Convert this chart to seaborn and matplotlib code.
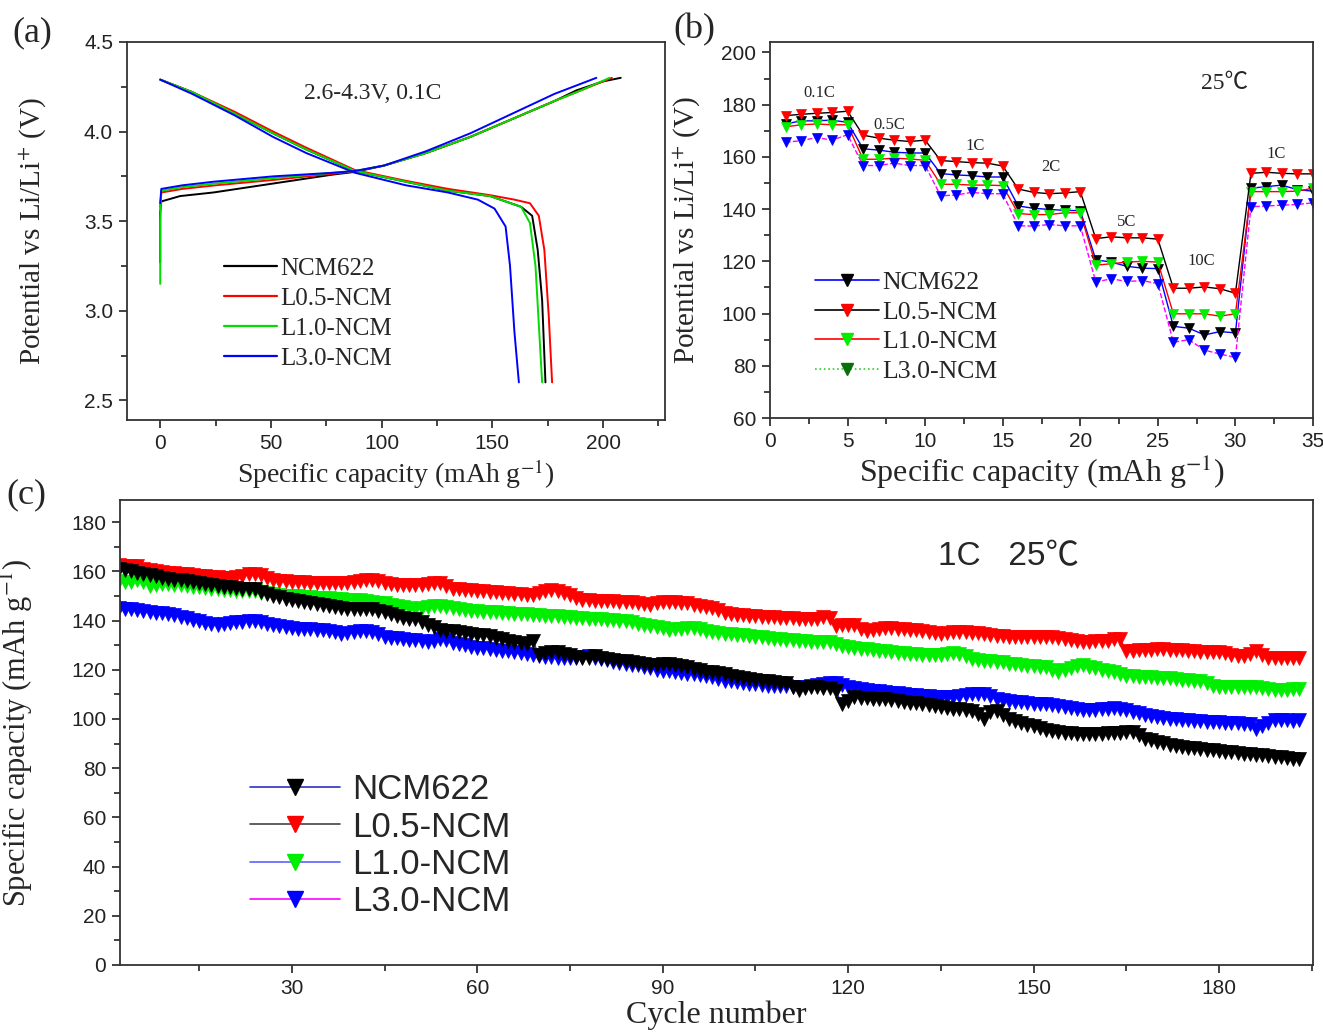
import seaborn as sns
import matplotlib.pyplot as plt
from matplotlib.lines import Line2D
from matplotlib.ticker import MultipleLocator, FormatStrFormatter

# --- (a) charge / discharge curves, 2.6-4.3 V, 0.1C ---
chg_cap_ncm = [0, 0, 0.5, 9, 24, 51, 78, 88, 101, 120, 140, 159, 178, 188, 200, 208]
chg_v_ncm = [3.27, 3.55, 3.61, 3.64, 3.66, 3.71, 3.76, 3.775, 3.81, 3.88, 3.97, 4.07, 4.17, 4.23, 4.28, 4.30]
chg_cap_l05 = [0, 0.5, 10, 25, 51, 78, 88, 101, 120, 140, 159, 178, 190, 204]
chg_v_l05 = [3.58, 3.66, 3.68, 3.70, 3.73, 3.765, 3.778, 3.81, 3.88, 3.97, 4.07, 4.17, 4.23, 4.30]
chg_cap_l10 = [0, 0, 0.5, 10, 25, 51, 78, 88, 101, 120, 140, 159, 178, 190, 203]
chg_v_l10 = [3.15, 3.50, 3.67, 3.69, 3.71, 3.74, 3.77, 3.78, 3.81, 3.88, 3.97, 4.07, 4.17, 4.23, 4.30]
chg_cap_l30 = [0, 0.5, 10, 24, 51, 78, 88, 101, 120, 140, 159, 178, 197]
chg_v_l30 = [3.60, 3.68, 3.70, 3.72, 3.75, 3.77, 3.78, 3.81, 3.89, 3.99, 4.10, 4.21, 4.30]

dis_cap_ncm = [0, 14.5, 33.7, 51, 66, 88, 111, 130, 149, 163, 168, 170.5, 172.5, 174]
dis_v_ncm = [4.29, 4.22, 4.10, 3.99, 3.90, 3.78, 3.72, 3.67, 3.64, 3.58, 3.53, 3.34, 3.06, 2.60]
dis_cap_l05 = [0, 14.5, 33.7, 51, 66, 88, 111, 130, 149, 160, 167, 171, 173.5, 175.5, 177]
dis_v_l05 = [4.29, 4.22, 4.11, 4.00, 3.91, 3.785, 3.725, 3.68, 3.645, 3.62, 3.60, 3.53, 3.34, 2.97, 2.60]
dis_cap_l10 = [0, 14.5, 33.7, 51, 66, 88, 111, 130, 149, 163, 167, 169.5, 172.5]
dis_v_l10 = [4.29, 4.22, 4.10, 3.99, 3.90, 3.78, 3.72, 3.67, 3.64, 3.58, 3.49, 3.25, 2.60]
dis_cap_l30 = [0, 14.5, 33.7, 51, 66, 88, 111, 130, 143.5, 151, 156, 158, 160, 162]
dis_v_l30 = [4.29, 4.21, 4.09, 3.97, 3.88, 3.77, 3.70, 3.66, 3.62, 3.57, 3.47, 3.25, 2.88, 2.60]

# --- (b) rate capability ---
rate_cycle = list(range(1, 36))
rate_ncm = [172.6, 173.8, 173.8, 174.1, 173.2, 163.1, 162.6, 161.8, 161.5, 161.5,
            153.6, 153.1, 152.8, 152.3, 152.3, 141.2, 140.3, 139.9, 139.5, 139.4,
            120.6, 119.7, 118.1, 117.4, 117.2, 95.1, 94.4, 91.8, 93.1, 92.6,
            148.0, 148.6, 149.2, 147.4, 146.9]
rate_l05 = [175.8, 176.3, 176.7, 177.0, 177.5, 168.3, 167.2, 166.4, 165.9, 166.4,
            158.6, 158.2, 157.8, 157.6, 156.5, 147.7, 146.4, 145.9, 146.2, 146.7,
            128.7, 129.4, 129.0, 129.0, 128.5, 109.7, 109.7, 110.2, 109.5, 107.8,
            153.7, 154.1, 153.7, 153.5, 153.5]
rate_l10 = [171.5, 172.3, 172.6, 172.3, 172.3, 159.1, 159.1, 159.5, 159.2, 158.7,
            149.5, 149.5, 149.2, 149.2, 149.0, 138.3, 137.9, 137.9, 138.6, 138.6,
            118.5, 119.1, 119.7, 120.0, 119.7, 99.9, 99.9, 99.9, 99.0, 99.9,
            146.7, 146.7, 146.7, 146.9, 148.0]
rate_l30 = [165.6, 166.2, 167.4, 166.4, 168.5, 156.7, 156.7, 157.6, 156.7, 156.7,
            145.1, 145.4, 146.4, 145.9, 145.9, 133.6, 133.5, 134.1, 133.6, 133.6,
            112.1, 113.3, 112.3, 112.6, 111.5, 89.0, 90.0, 86.0, 84.5, 83.2,
            140.9, 141.2, 141.5, 141.8, 142.4]
rate_labels = ["0.1C", "0.5C", "1C", "2C", "5C", "10C", "1C"]
rate_label_x = [3.2, 7.7, 13.2, 18.1, 23.0, 27.8, 32.6]
rate_label_y = [184.5, 172.3, 164.0, 156.3, 135.0, 120.0, 161.0]

# --- (c) cycling at 1C, 25 C ---
cyc_ncm = [161.0,
    160.8, 160.5, 160.0, 159.5, 159.0, 158.5, 158.0, 157.5, 157.0,
    156.6, 156.3, 156.0, 155.6, 155.2, 154.8, 154.5, 154.2, 153.8, 153.5,
    153.2, 153.0, 152.8, 152.7, 151.8, 150.6, 150.0, 149.4, 148.9, 148.4,
    148.0, 147.6, 147.2, 146.9, 146.5, 146.1, 145.7, 145.3, 144.9, 144.5,
    144.6, 144.8, 144.8, 144.0, 143.4, 142.6, 141.9, 141.2, 140.8, 140.5,
    139.5, 138.3, 137.2, 136.2, 135.8, 135.6, 135.3, 135.0, 134.7, 134.3,
    134.0, 133.6, 133.0, 132.4, 131.8, 131.3, 130.8, 130.4, 131.6, 126.0,
    126.8, 127.3, 127.1, 126.5, 125.8, 125.0, 124.6, 124.9, 125.4, 124.8,
    124.3, 124.0, 123.7, 123.4, 123.2, 122.7, 122.2, 121.8, 122.0, 122.3,
    122.5, 122.0, 121.5, 121.0, 120.4, 119.8, 119.2, 119.0, 118.6, 118.2,
    117.6, 117.0, 116.7, 116.3, 116.0, 115.6, 115.3, 115.0, 114.8, 114.5,
    113.0, 111.7, 112.5, 113.1, 112.8, 112.6, 112.4, 111.5, 105.9, 107.5,
    108.8, 108.6, 108.4, 108.2, 108.1, 108.1, 107.8, 107.4, 107.0, 106.6,
    106.3, 105.9, 105.6, 105.2, 104.9, 104.6, 104.2, 103.9, 103.7, 103.2,
    102.0, 100.1, 103.0, 103.3, 101.5, 100.1, 99.2, 98.4, 97.6, 97.0,
    96.3, 95.6, 95.1, 94.8, 94.5, 94.2, 94.0, 93.8, 93.7, 93.8,
    94.0, 94.1, 94.3, 94.5, 94.7, 94.7, 93.5, 92.0, 91.3, 90.8,
    90.1, 89.6, 89.1, 88.6, 88.3, 88.0, 87.7, 87.4, 87.2, 87.0,
    86.7, 86.4, 86.1, 85.8, 85.6, 85.4, 85.2, 85.0, 84.7, 84.4,
    84.0, 83.8, 83.6]
cyc_l05 = [188.0,
    162.5, 162.0, 162.3, 162.0, 161.0, 160.5, 160.0, 159.8, 159.5,
    159.2, 159.0, 158.8, 158.5, 158.2, 158.0, 157.8, 157.6, 157.5, 157.5,
    157.8, 158.3, 158.8, 159.0, 158.5, 157.2, 156.5, 156.2, 156.0, 155.8,
    155.6, 155.5, 155.4, 155.3, 155.3, 155.2, 155.2, 155.3, 155.4, 155.5,
    156.0, 156.5, 156.6, 156.0, 155.2, 154.8, 154.6, 154.5, 154.5, 154.4,
    154.5, 154.8, 155.2, 155.3, 154.0, 152.9, 152.7, 152.5, 152.3, 152.1,
    151.9, 151.7, 151.5, 151.3, 151.1, 150.9, 150.6, 150.3, 150.5, 151.2,
    152.0, 152.3, 152.0, 151.3, 150.2, 149.0, 148.4, 148.2, 148.0, 147.9,
    147.8, 147.8, 147.7, 147.7, 147.4, 147.0, 146.8, 146.5, 147.2, 147.7,
    147.6, 147.4, 147.2, 147.0, 146.3, 145.8, 145.5, 145.0, 144.2, 143.2,
    142.7, 142.4, 142.2, 142.0, 141.8, 141.6, 141.5, 141.4, 141.2, 141.1,
    141.0, 140.8, 140.7, 140.6, 140.5, 141.5, 141.0, 137.6, 138.0, 138.3,
    138.0, 136.5, 135.9, 136.3, 136.7, 136.9, 136.8, 136.6, 136.4, 136.2,
    136.0, 135.7, 135.4, 135.0, 134.7, 135.0, 135.3, 135.5, 135.4, 135.1,
    134.8, 134.5, 134.2, 133.9, 133.6, 133.3, 133.2, 133.2, 133.3, 133.3,
    133.3, 133.3, 133.2, 133.0, 132.6, 132.2, 131.8, 131.1, 131.2, 131.5,
    131.7, 131.8, 132.4, 132.6, 127.5, 127.8, 128.0, 128.2, 128.2, 128.3,
    128.3, 128.2, 128.2, 128.0, 127.8, 127.6, 127.4, 127.2, 127.2, 127.1,
    126.8, 126.2, 125.6, 125.4, 126.5, 127.5, 126.2, 124.6, 124.8, 124.8,
    124.7, 124.6, 124.6]
cyc_l10 = [173.0,
    156.0, 155.6, 155.8, 156.3, 155.5, 154.2, 154.5, 154.8, 154.9,
    154.6, 154.3, 154.0, 153.8, 153.5, 153.3, 153.0, 152.8, 152.5, 152.3,
    152.2, 152.1, 152.0, 152.0, 151.3, 151.0, 150.7, 150.4, 150.1, 149.9,
    149.8, 149.6, 149.5, 149.3, 149.1, 149.0, 148.9, 148.7, 148.5, 148.4,
    148.2, 148.0, 147.7, 147.3, 147.0, 146.5, 146.0, 145.5, 145.1, 144.8,
    145.2, 145.7, 146.0, 145.9, 145.5, 145.0, 144.5, 144.1, 143.9, 143.7,
    143.5, 143.4, 143.3, 143.2, 143.0, 142.8, 142.7, 142.5, 142.3, 142.2,
    142.0, 141.9, 141.8, 141.6, 141.4, 141.2, 141.0, 140.8, 140.7, 140.5,
    140.3, 140.1, 140.0, 139.8, 139.3, 138.8, 138.3, 137.9, 137.3, 136.8,
    136.2, 136.4, 136.7, 136.9, 136.9, 136.4, 135.9, 135.5, 135.1, 134.7,
    134.5, 134.3, 134.0, 133.8, 133.5, 133.3, 133.0, 132.7, 132.4, 132.2,
    132.0, 131.8, 131.6, 131.4, 131.3, 131.2, 131.1, 130.5, 129.8, 129.2,
    128.9, 128.6, 128.3, 128.1, 127.8, 127.5, 127.3, 127.0, 126.8, 126.6,
    126.4, 126.2, 126.1, 126.0, 126.2, 126.5, 126.8, 126.6, 125.5, 124.5,
    123.9, 123.7, 123.5, 123.3, 123.0, 122.5, 122.2, 122.0, 121.7, 121.5,
    121.2, 121.0, 120.0, 119.2, 119.8, 120.8, 121.5, 121.8, 121.3, 120.6,
    120.0, 119.6, 119.0, 118.2, 117.6, 117.4, 117.2, 117.0, 116.9, 116.8,
    116.7, 116.6, 116.3, 116.0, 115.7, 115.5, 115.3, 114.5, 113.5, 113.1,
    113.1, 113.1, 113.1, 113.1, 113.1, 113.1, 112.6, 112.0, 111.7, 111.7,
    111.8, 112.0, 112.0]
cyc_l30 = [145.5,
    145.0, 144.8, 144.5, 144.1, 143.8, 143.5, 143.2, 143.0, 142.7,
    142.2, 141.6, 141.0, 140.4, 139.8, 139.2, 138.7, 138.3, 138.6, 139.0,
    139.3, 139.6, 139.8, 139.8, 139.3, 138.8, 138.3, 137.8, 137.3, 136.9,
    136.7, 136.5, 136.4, 136.3, 136.2, 135.7, 135.2, 134.7, 135.0, 135.3,
    135.6, 135.9, 135.5, 134.5, 133.3, 133.0, 132.8, 132.6, 132.3, 131.9,
    131.5, 131.1, 131.5, 132.6, 132.0, 131.0, 130.4, 129.9, 129.4, 129.0,
    128.7, 128.4, 128.1, 127.8, 127.5, 127.1, 126.7, 126.3, 125.9, 125.4,
    125.2, 125.0, 124.9, 124.8, 124.6, 124.8, 125.2, 125.4, 124.8, 124.2,
    123.8, 123.2, 122.8, 122.4, 122.1, 121.8, 121.3, 120.7, 120.1, 119.6,
    119.3, 119.0, 118.7, 118.4, 118.2, 117.8, 117.4, 116.9, 116.3, 115.6,
    115.3, 115.0, 114.7, 114.4, 114.1, 113.8, 113.6, 113.4, 113.3, 113.2,
    113.1, 113.1, 113.1, 113.3, 113.8, 114.3, 114.6, 114.6, 113.8, 112.8,
    112.4, 112.1, 111.8, 111.5, 111.2, 111.0, 110.7, 110.4, 110.2, 109.9,
    109.7, 109.5, 109.3, 109.1, 108.9, 108.8, 108.8, 109.2, 109.8, 110.2,
    110.3, 110.2, 109.2, 108.2, 107.6, 107.3, 107.0, 106.7, 106.5, 106.2,
    106.0, 105.9, 105.6, 105.2, 104.8, 104.4, 104.0, 103.8, 103.7, 103.8,
    104.0, 104.2, 104.4, 104.2, 103.6, 103.0, 102.4, 101.8, 101.2, 100.7,
    100.3, 100.1, 99.9, 99.7, 99.5, 99.3, 99.1, 98.9, 98.7, 98.6,
    98.4, 98.3, 98.2, 98.1, 98.0, 95.8, 97.0, 98.5, 99.4, 99.4,
    99.4, 99.3, 99.4]
cyc_number = list(range(1, len(cyc_ncm) + 1))

names = ["NCM622", "L0.5-NCM", "L1.0-NCM", "L3.0-NCM"]

SERIF = ["Liberation Serif", "Noto Sans CJK SC", "DejaVu Serif"]
SANS = ["Liberation Sans", "Noto Sans CJK SC", "DejaVu Sans"]

sns.set_style("ticks")
plt.rcParams["font.family"] = SANS
plt.rcParams["mathtext.fontset"] = "stix"
plt.rcParams["axes.linewidth"] = 1.3
plt.rcParams["xtick.direction"] = "out"
plt.rcParams["ytick.direction"] = "out"

fig = plt.figure(figsize=(13.23, 10.34), dpi=100)
W, H = 1323, 1034


def box(l, t, r, b):
    return [l / W, 1 - b / H, (r - l) / W, (b - t) / H]


def style_axes(ax, tick_size):
    ax.tick_params(which="both", top=False, right=False, width=1.2,
                   labelsize=tick_size, colors="#222222", pad=4)
    ax.tick_params(which="major", length=6)
    ax.tick_params(which="minor", length=4)
    for s in ax.spines.values():
        s.set_color("#333333")


def curve(ax, x, y, color, lw=1.4, **kw):
    sns.lineplot(x=x, y=y, ax=ax, color=color, lw=lw, estimator=None,
                 sort=False, legend=False, **kw)


# ---------------- (a) ----------------
ax_a = fig.add_axes(box(127, 42, 665, 420))
cols_a = ["black", "red", "#00dd00", "blue"]
chg = [(chg_cap_ncm, chg_v_ncm), (chg_cap_l05, chg_v_l05), (chg_cap_l10, chg_v_l10), (chg_cap_l30, chg_v_l30)]
dis = [(dis_cap_ncm, dis_v_ncm), (dis_cap_l05, dis_v_l05), (dis_cap_l10, dis_v_l10), (dis_cap_l30, dis_v_l30)]
for (cx, cy), (dx, dy), c in zip(chg, dis, cols_a):
    curve(ax_a, cx, cy, c)
    curve(ax_a, dx, dy, c)
ax_a.set_xlim(-15, 228)
ax_a.set_ylim(2.39, 4.5)
ax_a.xaxis.set_major_locator(MultipleLocator(50))
ax_a.xaxis.set_minor_locator(MultipleLocator(25))
ax_a.yaxis.set_major_locator(MultipleLocator(0.5))
ax_a.yaxis.set_minor_locator(MultipleLocator(0.25))
ax_a.yaxis.set_major_formatter(FormatStrFormatter("%.1f"))
style_axes(ax_a, 15)
ax_a.set_xlabel("Specific capacity (mAh g$^{-1}$)", family=SERIF, fontsize=20, labelpad=3)
ax_a.set_ylabel("Potential vs Li/Li$^{+}$ (V)", family=SERIF, fontsize=21)
ax_a.yaxis.set_label_coords(-0.145, 0.5)
ax_a.text(96, 4.215, "2.6-4.3V, 0.1C", family=SERIF, fontsize=17, ha="center", va="center")
h_a = [Line2D([], [], color=c, lw=1.6) for c in cols_a]
ax_a.legend(h_a, names, loc="upper left", bbox_to_anchor=(0.181, 0.43), frameon=False,
            prop={"family": SERIF, "size": 18}, handlelength=2.1, handletextpad=0.15,
            labelspacing=0.3, borderpad=0, borderaxespad=0)

# ---------------- (b) ----------------
ax_b = fig.add_axes(box(770, 42, 1313, 418))
rate_series = [
    (rate_ncm, "black", "blue", "-"),
    (rate_l10, "#00ee00", "red", "-"),
    (rate_l30, "blue", "magenta", "--"),
    (rate_l05, "red", "black", "-"),
]
for vals, mc, lc, ls in rate_series:
    curve(ax_b, rate_cycle, vals, lc, lw=1.0, ls=ls, marker="v", markersize=7.5,
          markerfacecolor=mc, markeredgecolor=mc, markeredgewidth=0.5)
ax_b.set_xlim(0, 35)
ax_b.set_ylim(60, 204)
ax_b.xaxis.set_major_locator(MultipleLocator(5))
ax_b.xaxis.set_minor_locator(MultipleLocator(2.5))
ax_b.yaxis.set_major_locator(MultipleLocator(20))
ax_b.yaxis.set_minor_locator(MultipleLocator(10))
style_axes(ax_b, 15)
ax_b.set_xlabel("Specific capacity (mAh g$^{-1}$)", family=SERIF, fontsize=23, labelpad=1)
ax_b.set_ylabel("Potential vs Li/Li$^{+}$ (V)", family=SERIF, fontsize=21)
ax_b.yaxis.set_label_coords(-0.124, 0.5)
for lab, x, y in zip(rate_labels, rate_label_x, rate_label_y):
    ax_b.text(x, y, lab, family=SERIF, fontsize=12, ha="center", va="center")
ax_b.text(29.3, 188.1, "25℃", family=SERIF, fontsize=17, ha="center", va="center")
leg_b = [("blue", "black", "-"), ("black", "red", "-"), ("red", "#00ee00", "-"), ("#33cc33", "#0a6e0a", ":")]
h_b = [Line2D([], [], color=lc, ls=ls, lw=1.2, marker="v", markersize=8,
              markerfacecolor=mc, markeredgecolor=mc) for lc, mc, ls in leg_b]
ax_b.legend(h_b, names, loc="upper left", bbox_to_anchor=(0.083, 0.39), frameon=False,
            prop={"family": SERIF, "size": 18.5}, handlelength=2.5, handletextpad=0.12,
            labelspacing=0.25, borderpad=0, borderaxespad=0)

# ---------------- (c) ----------------
ax_c = fig.add_axes(box(120, 500, 1313, 965))
cyc_series = [
    (cyc_l30, "blue", "magenta"),
    (cyc_l10, "#00ee00", "#6060ff"),
    (cyc_l05, "red", "#444444"),
    (cyc_ncm, "black", "#3030c0"),
]
for vals, mc, lc in cyc_series:
    curve(ax_c, cyc_number, vals, lc, lw=1.0, marker="v", markersize=9.5,
          markerfacecolor=mc, markeredgecolor=mc, markeredgewidth=0.5)
ax_c.set_xlim(2.2, 195.2)
ax_c.set_ylim(0, 189)
ax_c.xaxis.set_major_locator(MultipleLocator(30))
ax_c.xaxis.set_minor_locator(MultipleLocator(15))
ax_c.yaxis.set_major_locator(MultipleLocator(20))
ax_c.yaxis.set_minor_locator(MultipleLocator(10))
style_axes(ax_c, 15)
ax_c.set_xlabel("Cycle number", family=SERIF, fontsize=23, labelpad=2)
ax_c.set_ylabel("Specific capacity (mAh g$^{-1}$)", family=SERIF, fontsize=22)
ax_c.yaxis.set_label_coords(-0.071, 0.5)
ax_c.text(146, 166, "1C   25℃", family=SANS, fontsize=24, ha="center", va="center")
leg_c = [("#3030c0", "black"), ("#444444", "red"), ("#6060ff", "#00ee00"), ("magenta", "blue")]
h_c = [Line2D([], [], color=lc, lw=1.2, marker="v", markersize=12,
              markerfacecolor=mc, markeredgecolor=mc) for lc, mc in leg_c]
ax_c.legend(h_c, names, loc="upper left", bbox_to_anchor=(0.109, 0.412), frameon=False,
            prop={"family": SANS, "size": 25}, handlelength=2.6, handletextpad=0.35,
            labelspacing=0.12, borderpad=0, borderaxespad=0)

# panel letters
fig.text(12 / W, 1 - 33 / H, "(a)", family=SERIF, fontsize=26, va="center")
fig.text(673 / W, 1 - 30 / H, "(b)", family=SERIF, fontsize=26, va="center")
fig.text(6 / W, 1 - 495 / H, "(c)", family=SERIF, fontsize=26, va="center")

fig.savefig("out.png", dpi=100)
